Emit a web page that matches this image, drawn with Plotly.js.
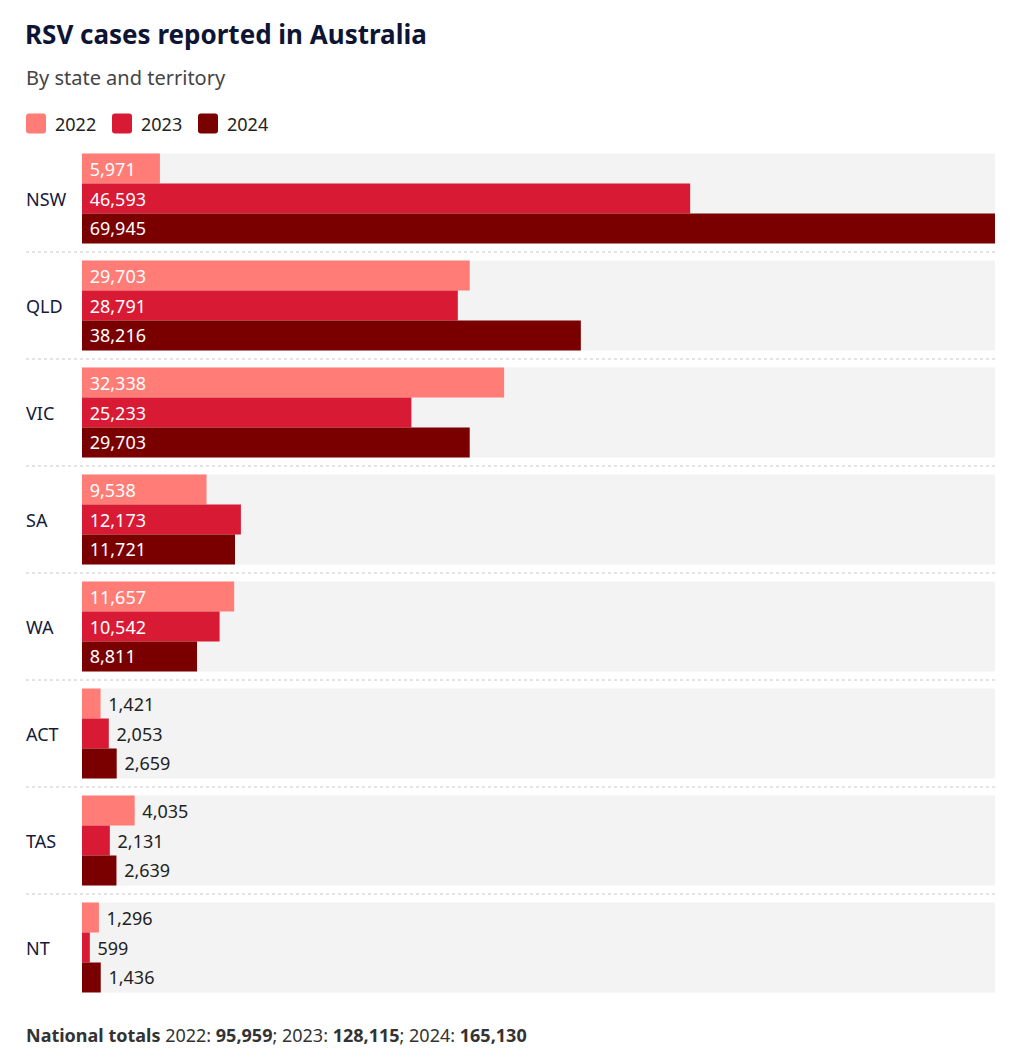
<!DOCTYPE html>
<html><head><meta charset="utf-8">
<script src="https://cdn.plot.ly/plotly-3.0.1.min.js"></script>
<style>body{margin:0;background:#fff}#chart{width:1024px;height:1057px}</style>
</head><body><div id="chart"></div>
<script>
const states = ["NSW","QLD","VIC","SA","WA","ACT","TAS","NT"];
const years = ["2022","2023","2024"];
const cases2022 = [5971,29703,32338,9538,11657,1421,4035,1296];
const cases2023 = [46593,28791,25233,12173,10542,2053,2131,599];
const cases2024 = [69945,38216,29703,11721,8811,2659,2639,1436];
const series = [cases2022, cases2023, cases2024];
const colors = ["#ff7d76","#d81a34","#7a0000"];
const FONT = "Noto Sans, sans-serif";
const insideThreshold = 5000;
const fmt = v => v.toLocaleString("en-US");

const traces = series.map((vals, k) => ({
  type: "bar", orientation: "h", name: years[k],
  y: states, x: vals,
  marker: {color: colors[k], line: {width: 0}},
  texttemplate: " %{x:,}",
  textposition: vals.map(v => v > insideThreshold ? "inside" : "outside"),
  insidetextanchor: "start",
  textangle: 0,
  constraintext: "none",
  insidetextfont: {family: FONT, size: 18, color: "#ffffff"},
  outsidetextfont: {family: FONT, size: 18, color: "#222222"},
  cliponaxis: false,
  showlegend: false,
  hoverinfo: "skip"
}));

// pixel geometry of the plot area
const W = 1024, H = 1057, ML = 82, MR = 29, MT = 144.5, MB = 55.5;
const PW = W - ML - MR, PH = H - MT - MB;
const px = x => (x - ML) / PW;
const py = y => 1 - (y - MT) / PH;

const bargap = 0.159;
const xmax = Math.max(...series.flat());
const labelX = px(26) - 0.002;

const shapes = [];
states.forEach((s, i) => {
  shapes.push({type: "rect", xref: "paper", yref: "y", x0: 0, x1: 1,
    y0: i - (1 - bargap) / 2, y1: i + (1 - bargap) / 2,
    fillcolor: "#f3f3f3", line: {width: 0}, layer: "below"});
  if (i < states.length - 1) {
    shapes.push({type: "line", xref: "paper", yref: "y", x0: px(26), x1: 1,
      y0: i + 0.5, y1: i + 0.5, line: {color: "#c8c8c8", width: 1, dash: "dot"}, layer: "below"});
  }
});

const annotations = states.map(s => ({
  xref: "paper", yref: "y", x: labelX, y: s, xanchor: "left", yanchor: "middle",
  text: s, showarrow: false, font: {family: FONT, size: 18, color: "#15193a"}
}));

// custom legend with rounded square swatches
const legendX = [26, 112, 198];
const legendY = 123, sw = 20, r = 3;
years.forEach((yr, k) => {
  const x0 = legendX[k], x1 = x0 + sw, y0 = legendY - sw / 2, y1 = legendY + sw / 2;
  const path = `M${px(x0 + r)},${py(y0)} L${px(x1 - r)},${py(y0)} Q${px(x1)},${py(y0)} ${px(x1)},${py(y0 + r)}` +
    ` L${px(x1)},${py(y1 - r)} Q${px(x1)},${py(y1)} ${px(x1 - r)},${py(y1)}` +
    ` L${px(x0 + r)},${py(y1)} Q${px(x0)},${py(y1)} ${px(x0)},${py(y1 - r)}` +
    ` L${px(x0)},${py(y0 + r)} Q${px(x0)},${py(y0)} ${px(x0 + r)},${py(y0)} Z`;
  shapes.push({type: "path", xref: "paper", yref: "paper", path: path,
    fillcolor: colors[k], line: {width: 0}});
  annotations.push({xref: "paper", yref: "paper", x: px(x1 + 7), y: py(legendY),
    xanchor: "left", yanchor: "middle", showarrow: false, text: yr,
    font: {family: FONT, size: 18, color: "#222222"}});
});

const totals = series.map(vals => vals.reduce((a, b) => a + b, 0));
annotations.push({
  xref: "paper", yref: "paper", x: labelX, y: py(1036), xanchor: "left", yanchor: "middle",
  showarrow: false, font: {family: FONT, size: 18, color: "#333333"},
  text: "<b>National totals</b> " + years.map((y, k) => y + ": <b>" + fmt(totals[k]) + "</b>").join("; ")
});
annotations.push({
  xref: "paper", yref: "paper", x: labelX, y: py(77), xanchor: "left", yanchor: "middle",
  showarrow: false, font: {family: FONT, size: 20, color: "#444444"},
  text: "By state and territory"
});

const layout = {
  width: W, height: H,
  margin: {l: ML, r: MR, t: MT, b: MB},
  paper_bgcolor: "#ffffff", plot_bgcolor: "#ffffff",
  font: {family: FONT, color: "#222222"},
  title: {text: "<b>RSV cases reported in Australia</b>", x: 25 / W, xanchor: "left",
    xref: "container", yref: "container", y: 1 - 35 / H, yanchor: "middle",
    font: {family: FONT, size: 26, color: "#0e1433"}},
  barmode: "group", bargap: bargap, bargroupgap: 0,
  xaxis: {range: [0, xmax], visible: false, fixedrange: true},
  yaxis: {type: "category", autorange: "reversed", showticklabels: false,
    showgrid: false, zeroline: false, showline: false, ticks: ""},
  showlegend: false,
  shapes: shapes, annotations: annotations
};

Plotly.newPlot("chart", traces, layout, {displayModeBar: false, staticPlot: true});
</script></body></html>
